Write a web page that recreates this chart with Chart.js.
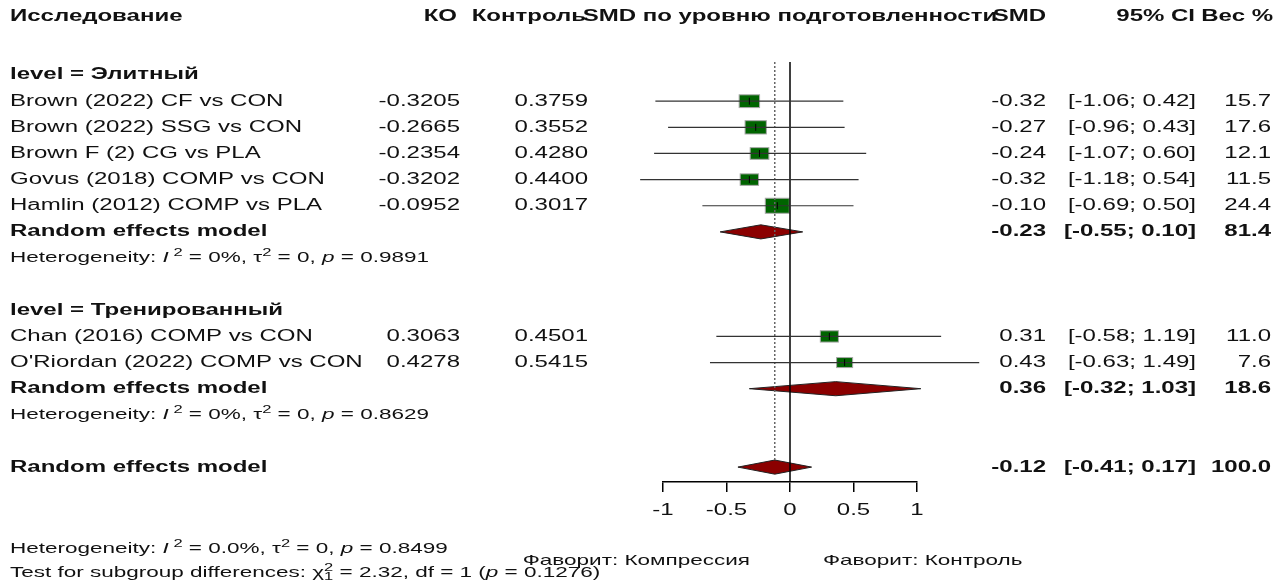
<!DOCTYPE html>
<html>
<head>
<meta charset="utf-8">
<script src="https://cdn.jsdelivr.net/npm/chart.js@4.4.0/dist/chart.umd.min.js"></script>
<style>
  html, body { margin: 0; padding: 0; background: #fff; }
  canvas { display: block; }
</style>
</head>
<body>
<canvas id="forest" width="1280" height="580"></canvas>
<script>
// individual studies
var studyLabels = [
  "Brown (2022) CF vs CON",
  "Brown (2022) SSG vs CON",
  "Brown F (2) CG vs PLA",
  "Govus (2018) COMP vs CON",
  "Hamlin (2012) COMP vs PLA",
  "Chan (2016) COMP vs CON",
  "O'Riordan (2022) COMP vs CON"
];
var studyRows = [1, 2, 3, 4, 5, 10, 11];
var koValues = [-0.3205, -0.2665, -0.2354, -0.3202, -0.0952, 0.3063, 0.4278];
var controlValues = [0.3759, 0.3552, 0.4280, 0.4400, 0.3017, 0.4501, 0.5415];
var smdValues = [-0.32, -0.27, -0.24, -0.32, -0.10, 0.31, 0.43];
var ciLower = [-1.06, -0.96, -1.07, -1.18, -0.69, -0.58, -0.63];
var ciUpper = [0.42, 0.43, 0.60, 0.54, 0.50, 1.19, 1.49];
var weights = [15.7, 17.6, 12.1, 11.5, 24.4, 11.0, 7.6];

// random effects models: two subgroups, then overall
var pooledRows = [6, 12, 15];
var pooledSmd = [-0.23, 0.36, -0.12];
var pooledLower = [-0.55, -0.32, -0.41];
var pooledUpper = [0.10, 1.03, 0.17];
var pooledWeights = [81.4, 18.6, 100.0];

var groupLabels = ["level = Элитный", "level = Тренированный"];
var groupRows = [0, 9];

var hetRows = [7, 13];
var hetI2 = ["0%", "0%"];
var hetTau2 = ["0", "0"];
var hetP = ["0.9891", "0.8629"];

var overallI2 = "0.0%";
var overallTau2 = "0";
var overallP = "0.8499";
var subgroupChi2 = "2.32";
var subgroupDf = "1";
var subgroupP = "0.1276";

var xTicks = [-1, -0.5, 0, 0.5, 1];
var yTop = -0.5, yBottom = 15.57;

// text is drawn wider than the font's natural width
var SX = 1.5;
var BOX_RATIO = 1.6;
var FAMILY = '"Liberation Sans", Arial, sans-serif';
var F_NORM = "16px " + FAMILY;
var F_BOLD = "bold 16px " + FAMILY;
var F_HET = "15px " + FAMILY;
var F_HET_IT = "italic 15px " + FAMILY;
var F_SUP = "11px " + FAMILY;
var INK = "#111";

function stretchText(ctx, text, x, y, align, font) {
  ctx.save();
  ctx.font = font;
  ctx.fillStyle = INK;
  ctx.textAlign = align;
  ctx.textBaseline = "middle";
  ctx.translate(x, y);
  ctx.scale(SX, 1);
  ctx.fillText(text, 0, 0);
  ctx.restore();
}

// parts: [text, font, dy, advance]
function richText(ctx, x, y, parts) {
  parts.forEach(function (p) {
    stretchText(ctx, p[0], x, y + (p[2] || 0), "left", p[1]);
    if (p[3] === false) return;
    ctx.font = p[1];
    x += ctx.measureText(p[0]).width * SX;
  });
}

function hetParts(i2, tau2, p) {
  return [
    ["Heterogeneity: ", F_HET], ["I", F_HET_IT], [" 2", F_SUP, -5],
    [" = " + i2 + ", ", F_HET], ["τ", F_HET], ["2", F_SUP, -5],
    [" = " + tau2 + ", ", F_HET], ["p", F_HET_IT], [" = " + p, F_HET]
  ];
}

function boxHeight(w) {
  return 3.7 + 2.29 * Math.sqrt(w);
}

var forestPlugin = {
  id: "forest",
  beforeDatasetsDraw: function (chart) {
    var ctx = chart.ctx, xs = chart.scales.x, ys = chart.scales.y;
    ctx.save();
    // weighted squares
    for (var i = 0; i < smdValues.length; i++) {
      var h = boxHeight(weights[i]), w = h * BOX_RATIO;
      var px = xs.getPixelForValue(smdValues[i]);
      var py = ys.getPixelForValue(studyRows[i]);
      ctx.fillStyle = "#006400";
      ctx.fillRect(px - w / 2, py - h / 2, w, h);
      ctx.strokeStyle = "#a8a8a8";
      ctx.lineWidth = 1;
      ctx.strokeRect(px - w / 2, py - h / 2, w, h);
    }
    // pooled diamonds
    for (var j = 0; j < pooledSmd.length; j++) {
      var r = pooledRows[j];
      ctx.beginPath();
      ctx.moveTo(xs.getPixelForValue(pooledLower[j]), ys.getPixelForValue(r));
      ctx.lineTo(xs.getPixelForValue(pooledSmd[j]), ys.getPixelForValue(r - 0.27));
      ctx.lineTo(xs.getPixelForValue(pooledUpper[j]), ys.getPixelForValue(r));
      ctx.lineTo(xs.getPixelForValue(pooledSmd[j]), ys.getPixelForValue(r + 0.27));
      ctx.closePath();
      ctx.fillStyle = "#8b0000";
      ctx.fill();
      ctx.strokeStyle = "#222";
      ctx.lineWidth = 1;
      ctx.stroke();
    }
    ctx.restore();
  },
  afterDraw: function (chart) {
    var ctx = chart.ctx, xs = chart.scales.x, ys = chart.scales.y;
    var ca = chart.chartArea;
    var yHead = ys.getPixelForValue(-2.25);

    // column headers
    stretchText(ctx, "Исследование", 10, yHead, "left", F_BOLD);
    stretchText(ctx, "КО", 457, yHead, "right", F_BOLD);
    stretchText(ctx, "Контроль", 586, yHead, "right", F_BOLD);
    stretchText(ctx, "SMD по уровню подготовленности", (ca.left + ca.right) / 2, yHead, "center", F_BOLD);
    stretchText(ctx, "SMD", 1046, yHead, "right", F_BOLD);
    stretchText(ctx, "95% CI", 1195, yHead, "right", F_BOLD);
    stretchText(ctx, "Вес %", 1273, yHead, "right", F_BOLD);

    groupLabels.forEach(function (g, k) {
      stretchText(ctx, g, 10, ys.getPixelForValue(groupRows[k]), "left", F_BOLD);
    });

    studyLabels.forEach(function (s, i) {
      var y = ys.getPixelForValue(studyRows[i]);
      stretchText(ctx, s, 10, y, "left", F_NORM);
      stretchText(ctx, koValues[i].toFixed(4), 460, y, "right", F_NORM);
      stretchText(ctx, controlValues[i].toFixed(4), 588, y, "right", F_NORM);
      stretchText(ctx, smdValues[i].toFixed(2), 1046, y, "right", F_NORM);
      stretchText(ctx, "[" + ciLower[i].toFixed(2) + "; " + ciUpper[i].toFixed(2) + "]", 1196, y, "right", F_NORM);
      stretchText(ctx, weights[i].toFixed(1), 1271, y, "right", F_NORM);
    });

    pooledRows.forEach(function (r, j) {
      var y = ys.getPixelForValue(r);
      stretchText(ctx, "Random effects model", 10, y, "left", F_BOLD);
      stretchText(ctx, pooledSmd[j].toFixed(2), 1046, y, "right", F_BOLD);
      stretchText(ctx, "[" + pooledLower[j].toFixed(2) + "; " + pooledUpper[j].toFixed(2) + "]", 1196, y, "right", F_BOLD);
      stretchText(ctx, pooledWeights[j].toFixed(1), 1271, y, "right", F_BOLD);
    });

    hetRows.forEach(function (r, k) {
      richText(ctx, 10, ys.getPixelForValue(r), hetParts(hetI2[k], hetTau2[k], hetP[k]));
    });

    // axis labels
    xTicks.forEach(function (v) {
      stretchText(ctx, String(v), xs.getPixelForValue(v), ca.bottom + 29, "center", F_NORM);
    });

    // footer
    var cx = xs.getPixelForValue(0);
    richText(ctx, 10, ca.bottom + 67, hetParts(overallI2, overallTau2, overallP));
    stretchText(ctx, "Фаворит: Компрессия", cx - 40, ca.bottom + 79, "right", F_HET);
    stretchText(ctx, "Фаворит: Контроль", cx + 33, ca.bottom + 79, "left", F_HET);
    richText(ctx, 10, ca.bottom + 91, [
      ["Test for subgroup differences: ", F_HET], ["χ", F_HET],
      ["2", F_SUP, -5, false], ["1", F_SUP, 4],
      [" = " + subgroupChi2 + ", df = " + subgroupDf + " (", F_HET],
      ["p", F_HET_IT], [" = " + subgroupP + ")", F_HET]
    ]);
  }
};

var datasets = [];

// vertical marks at each study estimate
datasets.push({
  data: smdValues.map(function (v, i) { return { x: v, y: studyRows[i] }; }),
  pointStyle: "line",
  rotation: 90,
  pointRadius: 3.5,
  pointBorderWidth: 1,
  pointBorderColor: "#000",
  showLine: false,
  clip: false
});

// confidence intervals
smdValues.forEach(function (v, i) {
  datasets.push({
    data: [{ x: ciLower[i], y: studyRows[i] }, { x: ciUpper[i], y: studyRows[i] }],
    showLine: true,
    borderColor: "#333",
    borderWidth: 1.2,
    pointRadius: 0,
    clip: false
  });
});

// line of no effect
datasets.push({
  data: [{ x: 0, y: yTop }, { x: 0, y: yBottom }],
  showLine: true,
  borderColor: "#000",
  borderWidth: 1.5,
  pointRadius: 0,
  clip: false
});

// overall pooled estimate
datasets.push({
  data: [{ x: pooledSmd[2], y: yTop }, { x: pooledSmd[2], y: pooledRows[2] - 0.27 }],
  showLine: true,
  borderColor: "#666",
  borderWidth: 1.5,
  borderDash: [2, 2],
  pointRadius: 0,
  clip: false
});

new Chart(document.getElementById("forest"), {
  type: "scatter",
  data: { datasets: datasets },
  plugins: [forestPlugin],
  options: {
    responsive: false,
    animation: false,
    events: [],
    layout: { padding: { left: 663, right: 363, top: 62, bottom: 0 } },
    plugins: { legend: { display: false }, tooltip: { enabled: false } },
    scales: {
      x: {
        type: "linear",
        min: -1,
        max: 1,
        afterBuildTicks: function (s) {
          s.ticks = xTicks.map(function (v) { return { value: v }; });
        },
        afterFit: function (s) { s.height = 98; },
        border: { display: true, color: "#000", width: 1.5 },
        grid: { drawOnChartArea: false, drawTicks: true, tickLength: 10, color: "#000", lineWidth: 1.5 },
        ticks: { color: "rgba(0,0,0,0)" }
      },
      y: {
        type: "linear",
        display: false,
        reverse: true,
        min: yTop,
        max: yBottom
      }
    }
  }
});
</script>
</body>
</html>
